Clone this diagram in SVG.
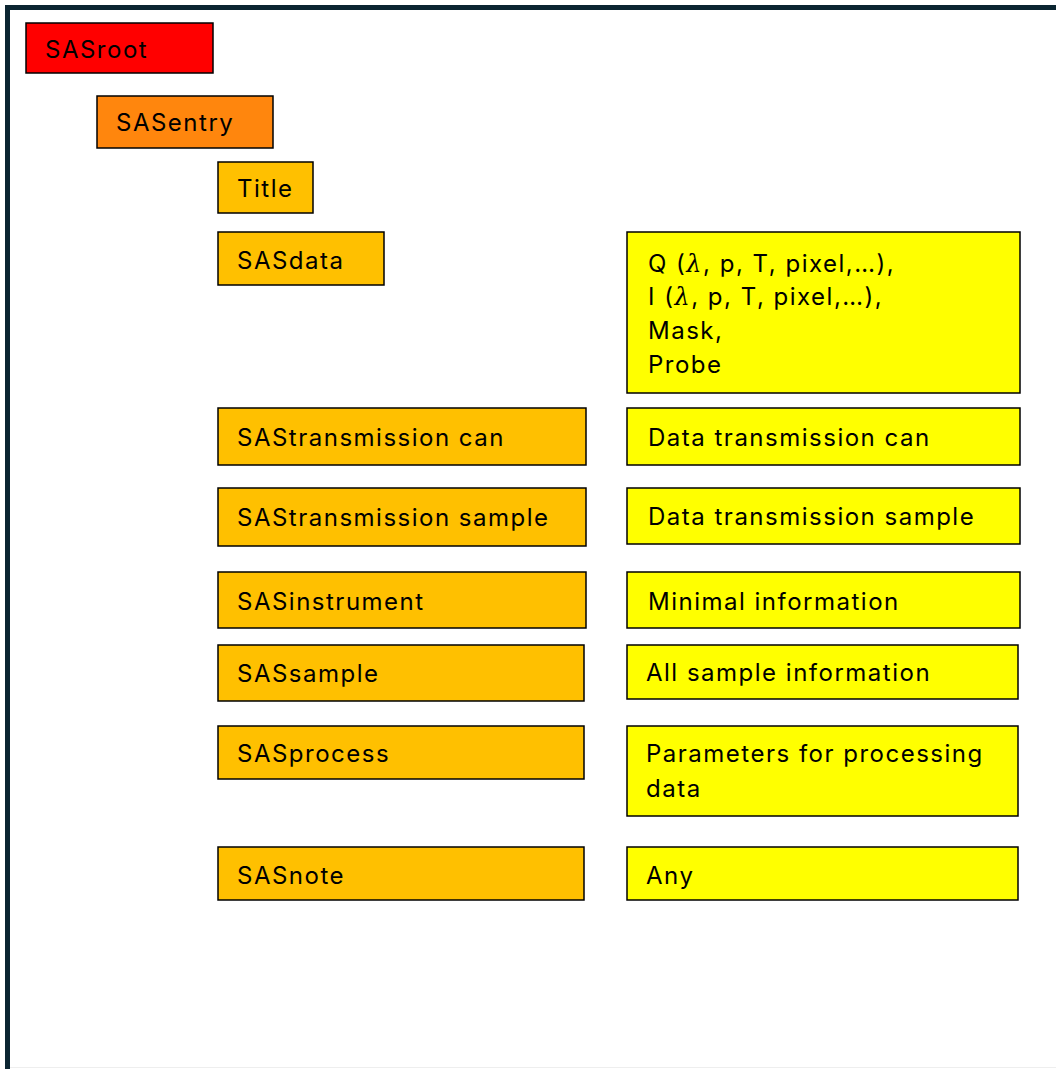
<svg xmlns="http://www.w3.org/2000/svg" width="1056" height="1069" viewBox="0 0 1056 1069">
<style>
.box{stroke:#000;stroke-width:1.5}
.red{fill:#ff0000}
.org{fill:#ff860d}
.amb{fill:#ffc000}
.yel{fill:#ffff00}
text{font-family:Inter,"Open Sans","Liberation Sans",sans-serif;font-size:24px;fill:#000;letter-spacing:1.5px}
</style>
<rect x="0" y="0" width="1056" height="1069" fill="#fff"/>
<g id="frame">
<path d="M7.5,1069 V7.5 H1056" fill="none" stroke="#0b2531" stroke-width="5"/>
<line x1="10" y1="1067.5" x2="1056" y2="1067.5" stroke="#eeeeee" stroke-width="1"/>
</g>
<g id="connectors"></g>
<g id="sasroot"><rect class="box red" x="26" y="23" width="187" height="50"/><text x="45" y="58">SASroot</text></g>
<g id="sasentry"><rect class="box org" x="97" y="96" width="176" height="52"/><text x="116" y="131">SASentry</text></g>
<g id="title"><rect class="box amb" x="218" y="162" width="95" height="51"/><text x="237" y="197">Title</text></g>
<g id="sasdata"><rect class="box amb" x="218" y="232" width="166" height="53"/><text x="237" y="269">SASdata</text></g>
<g id="sasdata-info"><rect class="box yel" x="627" y="232" width="393" height="161"/>
<text x="648" y="272">Q (<tspan font-family="'DejaVu Serif',serif" font-style="italic">λ</tspan>, p, T, pixel,…),</text>
<text x="648" y="305">I (<tspan font-family="'DejaVu Serif',serif" font-style="italic">λ</tspan>, p, T, pixel,…),</text>
<text x="648" y="339">Mask,</text>
<text x="648" y="373">Probe</text></g>
<g id="trans-can"><rect class="box amb" x="218" y="408" width="368" height="57"/><text x="237" y="446">SAStransmission can</text></g>
<g id="trans-can-info"><rect class="box yel" x="627" y="408" width="393" height="57"/><text x="648" y="446">Data transmission can</text></g>
<g id="trans-sample"><rect class="box amb" x="218" y="488" width="368" height="58"/><text x="237" y="526">SAStransmission sample</text></g>
<g id="trans-sample-info"><rect class="box yel" x="627" y="488" width="393" height="56"/><text x="648" y="525">Data transmission sample</text></g>
<g id="instrument"><rect class="box amb" x="218" y="572" width="368" height="56"/><text x="237" y="610">SASinstrument</text></g>
<g id="instrument-info"><rect class="box yel" x="627" y="572" width="393" height="56"/><text x="648" y="610">Minimal information</text></g>
<g id="sample"><rect class="box amb" x="218" y="645" width="366" height="56"/><text x="237" y="682">SASsample</text></g>
<g id="sample-info"><rect class="box yel" x="627" y="645" width="391" height="54"/><text x="646" y="681">All sample information</text></g>
<g id="process"><rect class="box amb" x="218" y="726" width="366" height="53"/><text x="237" y="762">SASprocess</text></g>
<g id="process-info"><rect class="box yel" x="627" y="726" width="391" height="90"/><text x="646" y="762">Parameters for processing</text><text x="646" y="797">data</text></g>
<g id="note"><rect class="box amb" x="218" y="847" width="366" height="53"/><text x="237" y="884">SASnote</text></g>
<g id="note-info"><rect class="box yel" x="627" y="847" width="391" height="53"/><text x="646" y="884">Any</text></g>
</svg>
